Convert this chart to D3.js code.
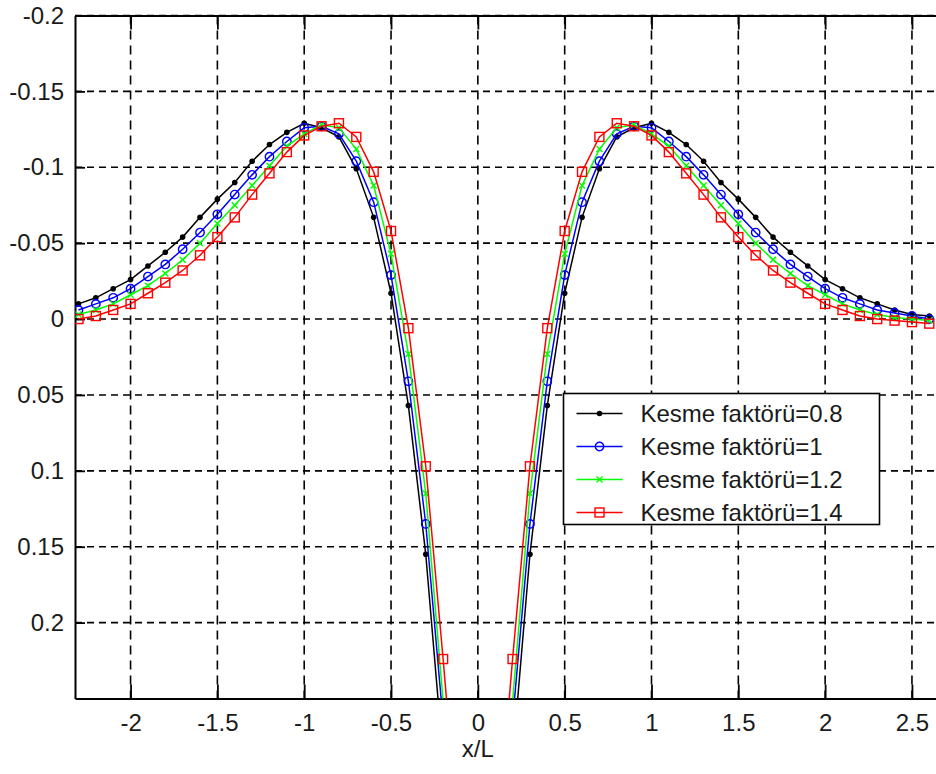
<!DOCTYPE html>
<html>
<head>
<meta charset="utf-8">
<script src="https://cdn.jsdelivr.net/npm/d3@7"></script>
<style>
  body { margin: 0; background: #fff; }
  svg { display: block; font-family: "Liberation Sans", Arial, sans-serif; }
</style>
</head>
<body>
<div id="chart"></div>
<script>
// x/L positions shared by all four curves
const xValues = [-2.3, -2.2, -2.1, -2.0, -1.9, -1.8, -1.7, -1.6, -1.5, -1.4, -1.3, -1.2, -1.1, -1.0, -0.9, -0.8, -0.7, -0.6, -0.5, -0.4, -0.3, -0.2, -0.1,
  0, 0.1, 0.2, 0.3, 0.4, 0.5, 0.6, 0.7, 0.8, 0.9, 1.0, 1.1, 1.2, 1.3, 1.4, 1.5, 1.6, 1.7, 1.8, 1.9, 2.0, 2.1, 2.2, 2.3, 2.4, 2.5, 2.6];

const kf08 = [-0.010, -0.014, -0.020, -0.026, -0.035, -0.044, -0.054, -0.067, -0.079, -0.090, -0.104, -0.115, -0.123, -0.129, -0.126, -0.120, -0.099, -0.067, -0.017, 0.057, 0.155, 0.29, 0.42,
  0.47, 0.42, 0.29, 0.155, 0.057, -0.017, -0.067, -0.099, -0.120, -0.126, -0.129, -0.123, -0.115, -0.104, -0.090, -0.079, -0.067, -0.054, -0.044, -0.035, -0.026, -0.020, -0.014, -0.010, -0.006, -0.003, -0.002];

const kf10 = [-0.006, -0.010, -0.014, -0.020, -0.028, -0.036, -0.046, -0.057, -0.069, -0.082, -0.095, -0.107, -0.117, -0.126, -0.127, -0.122, -0.104, -0.077, -0.029, 0.041, 0.135, 0.265, 0.40,
  0.45, 0.40, 0.265, 0.135, 0.041, -0.029, -0.077, -0.104, -0.122, -0.127, -0.126, -0.117, -0.107, -0.095, -0.082, -0.069, -0.057, -0.046, -0.036, -0.028, -0.020, -0.014, -0.010, -0.006, -0.004, -0.002, 0.000];

const kf12 = [-0.003, -0.006, -0.010, -0.016, -0.022, -0.030, -0.039, -0.050, -0.063, -0.075, -0.088, -0.101, -0.114, -0.122, -0.128, -0.126, -0.112, -0.088, -0.043, 0.023, 0.115, 0.252, 0.38,
  0.43, 0.38, 0.252, 0.115, 0.023, -0.043, -0.088, -0.112, -0.126, -0.128, -0.122, -0.114, -0.101, -0.088, -0.075, -0.063, -0.050, -0.039, -0.030, -0.022, -0.016, -0.010, -0.006, -0.003, -0.001, 0.000, 0.001];

const kf14 = [0.000, -0.002, -0.006, -0.010, -0.017, -0.024, -0.032, -0.042, -0.054, -0.067, -0.082, -0.096, -0.110, -0.121, -0.127, -0.129, -0.120, -0.097, -0.058, 0.006, 0.097, 0.224, 0.36,
  0.41, 0.36, 0.224, 0.097, 0.006, -0.058, -0.097, -0.120, -0.129, -0.127, -0.121, -0.110, -0.096, -0.082, -0.067, -0.054, -0.042, -0.032, -0.024, -0.017, -0.010, -0.006, -0.002, 0.000, 0.001, 0.002, 0.003];

const seriesNames = ['Kesme faktörü=0.8', 'Kesme faktörü=1', 'Kesme faktörü=1.2', 'Kesme faktörü=1.4'];
const xTicks = [-2, -1.5, -1, -0.5, 0, 0.5, 1, 1.5, 2, 2.5];
const yTicks = [-0.2, -0.15, -0.1, -0.05, 0, 0.05, 0.1, 0.15, 0.2];
const xLabel = 'x/L';

const series = [
  { name: seriesNames[0], values: kf08, color: '#000000', marker: 'dot' },
  { name: seriesNames[1], values: kf10, color: '#0000ff', marker: 'circle' },
  { name: seriesNames[2], values: kf12, color: '#00ff00', marker: 'cross' },
  { name: seriesNames[3], values: kf14, color: '#ff0000', marker: 'square' }
];

const width = 936, height = 774;
const fontSize = 24;
const textColor = '#1a1a1a';

const x = d3.scaleLinear().domain([-2.32, 2.65]).range([75, 938]);
const y = d3.scaleLinear().domain([-0.2, 0.25]).range([15.5, 698.5]);

const svg = d3.select('#chart')
  .append('svg')
  .attr('width', width)
  .attr('height', height);

svg.append('defs').append('clipPath')
  .attr('id', 'plotClip')
  .append('rect')
  .attr('x', x.range()[0])
  .attr('y', y.range()[0])
  .attr('width', x.range()[1] - x.range()[0])
  .attr('height', y.range()[1] - y.range()[0]);

// dashed grid
svg.append('g').selectAll('line')
  .data(yTicks)
  .join('line')
  .attr('x1', x.range()[0])
  .attr('x2', x.range()[1])
  .attr('y1', d => y(d))
  .attr('y2', d => y(d))
  .attr('stroke', '#000')
  .attr('stroke-width', 1.6)
  .attr('stroke-dasharray', '7,5');

svg.append('g').selectAll('line')
  .data(xTicks)
  .join('line')
  .attr('x1', d => x(d))
  .attr('x2', d => x(d))
  .attr('y1', y.range()[0])
  .attr('y2', y.range()[1])
  .attr('stroke', '#000')
  .attr('stroke-width', 1.6)
  .attr('stroke-dasharray', '9,6');

// axes
const styleAxis = g => {
  g.select('.domain').attr('stroke', '#000').attr('stroke-width', 2);
  g.selectAll('.tick line').attr('stroke', '#000').attr('stroke-width', 1.8);
  g.selectAll('.tick text')
    .attr('fill', textColor)
    .attr('font-size', fontSize)
    .attr('font-family', '"Liberation Sans", Arial, sans-serif');
};

svg.append('g')
  .attr('transform', 'translate(' + x.range()[0] + ',0)')
  .call(d3.axisLeft(y).tickValues(yTicks).tickSize(-10).tickSizeOuter(0).tickPadding(11).tickFormat(d => String(d)))
  .call(styleAxis);

svg.append('g')
  .attr('transform', 'translate(0,' + y.range()[1] + ')')
  .call(d3.axisBottom(x).tickValues(xTicks).tickSize(-14).tickSizeOuter(0).tickPadding(15).tickFormat(d => String(d)))
  .call(styleAxis);

svg.append('g')
  .attr('transform', 'translate(0,' + y.range()[0] + ')')
  .call(d3.axisTop(x).tickValues(xTicks).tickSize(-14).tickSizeOuter(0).tickFormat(''))
  .call(styleAxis);

svg.append('text')
  .attr('x', x(0))
  .attr('y', 757)
  .attr('text-anchor', 'middle')
  .attr('font-size', fontSize)
  .attr('fill', textColor)
  .text(xLabel);

// marker drawing helper
function drawMarker(sel, type, color) {
  if (type === 'dot') {
    sel.append('circle').attr('r', 2.8).attr('fill', color);
  } else if (type === 'circle') {
    sel.append('circle').attr('r', 4.2).attr('fill', 'none').attr('stroke', color).attr('stroke-width', 1.4);
  } else if (type === 'cross') {
    sel.append('path').attr('d', 'M-3,-3L3,3M-3,3L3,-3').attr('stroke', color).attr('stroke-width', 1.4);
  } else if (type === 'square') {
    sel.append('rect').attr('x', -4.5).attr('y', -4.5).attr('width', 9).attr('height', 9)
      .attr('fill', 'none').attr('stroke', color).attr('stroke-width', 1.4);
  }
}

const line = d3.line()
  .x((d, i) => x(xValues[i]))
  .y(d => y(d));

const plot = svg.append('g').attr('clip-path', 'url(#plotClip)');

series.forEach(s => {
  const g = plot.append('g');
  g.append('path')
    .datum(s.values)
    .attr('fill', 'none')
    .attr('stroke', s.color)
    .attr('stroke-width', 1.5)
    .attr('d', line);

  g.selectAll('g.mk')
    .data(s.values)
    .join('g')
    .attr('class', 'mk')
    .attr('transform', (d, i) => 'translate(' + x(xValues[i]) + ',' + y(d) + ')')
    .each(function () { drawMarker(d3.select(this), s.marker, s.color); });
});

// legend
const legend = svg.append('g').attr('transform', 'translate(563.5,393.5)');
legend.append('rect')
  .attr('width', 316)
  .attr('height', 131)
  .attr('fill', '#fff')
  .attr('stroke', '#000')
  .attr('stroke-width', 1.6);

series.forEach((s, i) => {
  const row = legend.append('g').attr('transform', 'translate(0,' + (20 + i * 33) + ')');
  row.append('line')
    .attr('x1', 13).attr('x2', 59)
    .attr('stroke', s.color)
    .attr('stroke-width', 1.5);
  drawMarker(row.append('g').attr('transform', 'translate(36,0)'), s.marker, s.color);
  row.append('text')
    .attr('x', 77)
    .attr('dy', '0.35em')
    .attr('font-size', fontSize)
    .attr('fill', textColor)
    .text(s.name);
});
</script>
</body>
</html>
